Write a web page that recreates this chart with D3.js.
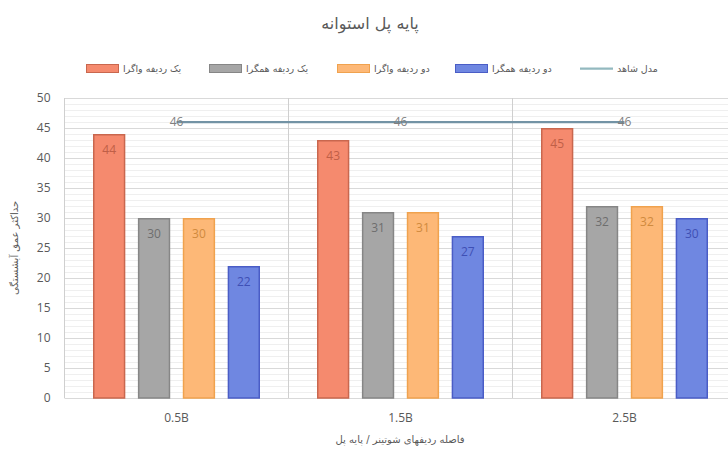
<!DOCTYPE html>
<html>
<head>
<meta charset="utf-8">
<script src="https://cdn.jsdelivr.net/npm/d3@7"></script>
<style>
  html, body { margin: 0; padding: 0; background: #fff; }
  svg { display: block; }
</style>
</head>
<body>
<svg id="chart" width="728" height="450"></svg>
<script>
// ---- data ----
const categories = ["0.5B", "1.5B", "2.5B"];
const seriesNames = ["یک ردیفه واگرا", "یک ردیفه همگرا", "دو ردیفه واگرا", "دو ردیفه همگرا"];
const singleDivergent = [44, 43, 45];
const singleConvergent = [30, 31, 32];
const doubleDivergent = [30, 31, 32];
const doubleConvergent = [22, 27, 30];
const controlName = "مدل شاهد";
const controlModel = [46, 46, 46];
const yTicks = [0, 5, 10, 15, 20, 25, 30, 35, 40, 45, 50];
const titleText = "پایه پل استوانه";
const yTitle = "حداکثر عمق آبشستگی";
const xTitle = "فاصله ردیفهای شوتینر / پایه پل";

const seriesValues = [singleDivergent, singleConvergent, doubleDivergent, doubleConvergent];
const fills = ["#F58A6E", "#A6A6A6", "#FDB877", "#6F87E1"];
const strokes = ["#C9674E", "#868686", "#F0A24E", "#4A5DC6"];
const labelColors = ["#C05F47", "#6E6E6E", "#D08A3E", "#3F50B5"];
const lineColor = "#7393A5";

const svg = d3.select("#chart");
const plot = { left: 64.5, right: 736.5, top: 98, bottom: 398 };

const x = d3.scaleBand().domain(categories).range([plot.left, plot.right]).padding(0);
const xi = d3.scaleBand().domain(d3.range(seriesNames.length))
  .range([28.5, x.bandwidth() - 28.5]).paddingInner(0.28).paddingOuter(0);
const y = d3.scaleLinear().domain([0, 50]).range([plot.bottom, plot.top]);

const persian = "'DejaVu Sans', 'Noto Sans', sans-serif";
const latin = "'Open Sans', 'Liberation Sans', sans-serif";

// minor gridlines
svg.append("g").selectAll("line").data(d3.range(0, 51, 1).filter(v => v % 5 !== 0))
  .join("line")
  .attr("x1", plot.left).attr("x2", plot.right)
  .attr("y1", d => y(d) + 0.5).attr("y2", d => y(d) + 0.5)
  .attr("stroke", "#EFEFEF").attr("stroke-width", 1);

// major gridlines
svg.append("g").selectAll("line").data(yTicks)
  .join("line")
  .attr("x1", plot.left).attr("x2", plot.right)
  .attr("y1", d => y(d) + 0.5).attr("y2", d => y(d) + 0.5)
  .attr("stroke", "#D9D9D9").attr("stroke-width", 1);

// vertical category gridlines
const vlines = categories.map(c => x(c)).concat([plot.right]);
svg.append("g").selectAll("line").data(vlines)
  .join("line")
  .attr("x1", d => d).attr("x2", d => d)
  .attr("y1", plot.top).attr("y2", plot.bottom)
  .attr("stroke", "#CFCFCF").attr("stroke-width", 1);

// y axis labels
const yAxis = d3.axisLeft(y).tickValues(yTicks).tickSize(0).tickPadding(0);
const yg = svg.append("g").attr("transform", `translate(${plot.left - 14},0)`).call(yAxis);
yg.select(".domain").remove();
yg.selectAll("text").attr("fill", "#595959").attr("font-size", 12).attr("font-family", latin);

// x axis labels
const xAxis = d3.axisBottom(x).tickSize(0).tickPadding(0);
const xg = svg.append("g").attr("transform", `translate(0,${plot.bottom + 15})`).call(xAxis);
xg.select(".domain").remove();
xg.selectAll("text").attr("fill", "#595959").attr("font-size", 12).attr("font-family", latin);

// bars
const groups = svg.append("g").selectAll("g").data(categories).join("g")
  .attr("transform", c => `translate(${x(c)},0)`);

groups.each(function(c, ci) {
  const g = d3.select(this);
  seriesValues.forEach((vals, si) => {
    const v = vals[ci];
    g.append("rect")
      .attr("x", xi(si) + 0.75)
      .attr("y", y(v) + 0.75)
      .attr("width", xi.bandwidth() - 1.5)
      .attr("height", y(0) - y(v) - 0.75)
      .attr("fill", fills[si])
      .attr("stroke", strokes[si])
      .attr("stroke-width", 1.5);
    g.append("text")
      .attr("x", xi(si) + xi.bandwidth() / 2)
      .attr("y", y(v) + 20)
      .attr("text-anchor", "middle")
      .attr("font-size", 12)
      .attr("font-family", latin)
      .attr("fill", labelColors[si])
      .text(v);
  });
});

// control line
const cx = c => x(c) + x.bandwidth() / 2;
const line = d3.line().x((d, i) => cx(categories[i])).y(d => y(d));
svg.append("path").datum(controlModel)
  .attr("d", line)
  .attr("fill", "none")
  .attr("stroke", lineColor)
  .attr("stroke-width", 2.25);
svg.append("g").selectAll("text").data(controlModel).join("text")
  .attr("x", (d, i) => cx(categories[i]))
  .attr("y", d => y(d) + 4)
  .attr("text-anchor", "middle")
  .attr("font-size", 12)
  .attr("font-family", latin)
  .attr("fill", "#7F7F7F")
  .text(d => d);

// title
svg.append("text")
  .attr("x", 370).attr("y", 29)
  .attr("text-anchor", "middle")
  .attr("direction", "rtl")
  .attr("font-size", 16)
  .attr("font-family", persian)
  .attr("fill", "#595959")
  .text(titleText);

// axis titles
svg.append("text")
  .attr("x", 400).attr("y", 443)
  .attr("text-anchor", "middle")
  .attr("direction", "rtl")
  .attr("font-size", 10)
  .attr("font-family", persian)
  .attr("fill", "#595959")
  .text(xTitle);

svg.append("text")
  .attr("transform", `translate(18,${(plot.top + plot.bottom) / 2}) rotate(-90)`)
  .attr("text-anchor", "middle")
  .attr("direction", "rtl")
  .attr("font-size", 10)
  .attr("font-family", persian)
  .attr("fill", "#595959")
  .text(yTitle);

// legend
const legendItems = [
  { name: seriesNames[0], type: "bar", i: 0, x: 86 },
  { name: seriesNames[1], type: "bar", i: 1, x: 209 },
  { name: seriesNames[2], type: "bar", i: 2, x: 337 },
  { name: seriesNames[3], type: "bar", i: 3, x: 455 },
  { name: controlName, type: "line", x: 580 }
];
const lg = svg.append("g");
legendItems.forEach(it => {
  if (it.type === "bar") {
    lg.append("rect")
      .attr("x", it.x + 0.5).attr("y", 64.5)
      .attr("width", 32).attr("height", 8)
      .attr("fill", fills[it.i]).attr("stroke", strokes[it.i]).attr("stroke-width", 1);
  } else {
    lg.append("line")
      .attr("x1", it.x).attr("x2", it.x + 33)
      .attr("y1", 68.5).attr("y2", 68.5)
      .attr("stroke", "#93B9BF").attr("stroke-width", 2.25);
  }
  lg.append("text")
    .attr("x", it.x + 37).attr("y", 72)
    .attr("text-anchor", "end")
    .attr("direction", "rtl")
    .attr("font-size", 9.5)
    .attr("font-family", persian)
    .attr("fill", "#595959")
    .text(it.name);
});
</script>
</body>
</html>
